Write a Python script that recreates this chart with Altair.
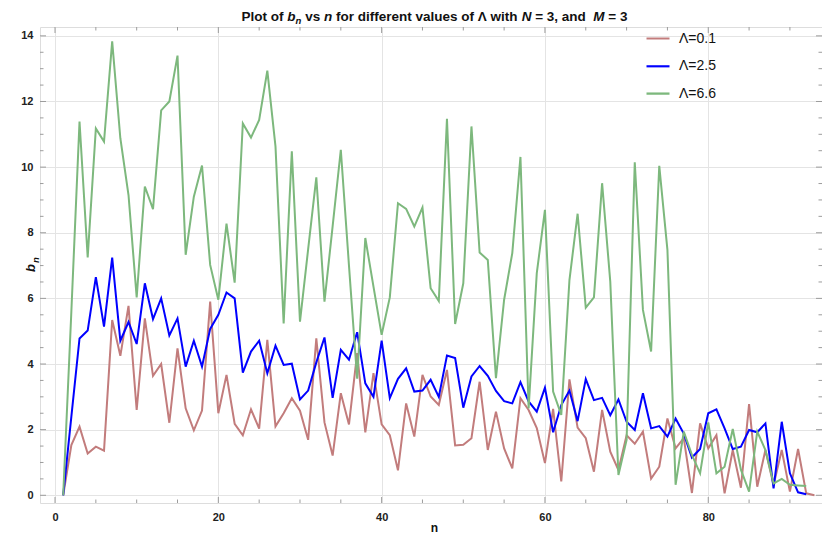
import altair as alt
import pandas as pd

# ---- data ----
red_vals = [0, 1.53, 2.09, 1.27, 1.48, 1.36, 5.34, 4.25, 5.77, 2.6,
            5.39, 3.64, 4.0, 2.21, 4.48, 2.65, 1.98, 2.58, 5.9, 2.5,
            3.67, 2.18, 1.83, 2.62, 2.03, 4.74, 2.1, 2.5, 2.96, 2.58,
            1.69, 4.78, 2.22, 1.21, 3.11, 2.16, 4.33, 1.92, 3.72, 2.16,
            1.83, 0.76, 2.8, 1.79, 3.67, 3.01, 2.75, 3.82, 1.52, 1.54,
            1.74, 3.46, 1.38, 2.55, 1.43, 0.82, 2.96, 2.6, 2.05, 0.98,
            2.63, 0.42, 3.53, 2.06, 1.74, 0.72, 2.6, 1.33, 0.77, 1.83,
            1.57, 1.94, 0.51, 0.87, 2.34, 1.43, 1.74, 0.07, 2.19, 1.43,
            1.83, 0.06, 1.38, 0.23, 2.78, 0.26, 1.38, 0.31, 1.38, 0.11,
            1.41, 0.06, 0.0]
blue_vals = [0, 2.4, 4.78, 5.02, 6.65, 5.14, 7.24, 4.71, 5.28, 4.61,
             6.46, 5.37, 6.0, 4.87, 5.39, 3.92, 4.71, 3.92, 5.07, 5.5,
             6.18, 6.0, 3.74, 4.38, 4.71, 3.72, 4.56, 3.97, 4.01, 2.92,
             3.19, 4.05, 4.81, 2.97, 4.43, 4.13, 4.97, 3.41, 3.0, 4.71,
             2.96, 3.55, 3.87, 3.16, 3.19, 3.52, 3.0, 4.26, 4.18, 2.67,
             3.62, 3.94, 3.64, 3.18, 2.87, 2.8, 3.45, 2.86, 2.55, 3.28,
             1.92, 2.75, 3.19, 2.26, 3.54, 2.9, 2.97, 2.44, 2.92, 2.24,
             1.99, 3.11, 2.04, 2.11, 1.79, 2.34, 1.88, 1.15, 1.41, 2.5,
             2.62, 2.04, 1.41, 1.48, 1.99, 1.92, 2.19, 0.21, 2.24, 0.67,
             0.09, 0.03]
green_vals = [0, 5.6, 11.39, 7.25, 11.18, 10.78, 13.83, 10.88, 9.15, 6.03,
              9.41, 8.72, 11.73, 12.0, 13.4, 7.33, 9.1, 10.05, 7.02, 5.96,
              8.28, 6.48, 11.33, 10.9, 11.44, 12.94, 10.63, 5.24, 10.48, 5.29,
              7.5, 9.69, 5.9, 8.2, 10.53, 7.0, 3.55, 7.84, 6.36, 4.89,
              6.03, 8.9, 8.73, 8.19, 8.77, 6.31, 5.92, 11.47, 5.22, 6.46,
              11.24, 7.4, 7.17, 3.57, 5.96, 7.38, 10.31, 2.65, 6.77, 8.7,
              3.16, 2.45, 6.56, 8.58, 5.72, 6.03, 9.51, 6.51, 0.62, 1.69,
              10.15, 5.65, 4.38, 10.04, 7.48, 0.32, 1.94, 1.23, 0.67, 2.22,
              0.67, 0.87, 2.02, 0.78, 0.11, 1.94, 1.38, 0.36, 0.5, 0.32,
              0.3, 0.28]
series_names = ["Λ=0.1", "Λ=2.5", "Λ=6.6"]
series_colors = ["#C27C7C", "#0000FF", "#7DB87D"]

x_major = [0, 20, 40, 60, 80]
x_minor = [5, 10, 15, 25, 30, 35, 45, 50, 55, 65, 70, 75, 85, 90]
y_major = [0, 2, 4, 6, 8, 10, 12, 14]
y_minor = [v / 2 for v in range(1, 28) if v % 4 != 0]

rows = []
for name, vals in zip(series_names, [red_vals, blue_vals, green_vals]):
    for i, v in enumerate(vals):
        rows.append({"n": i + 1, "b": v, "series": name})
df = pd.DataFrame(rows)

W, H = 782, 476
XDOM = [-1.84, 93.93]
YDOM = [-0.235, 14.27]
FRAME = "#9c9c9c"
FONT = "Liberation Sans, Arial, Helvetica, sans-serif"

xs = alt.Scale(domain=XDOM, nice=False, zero=False)
ys = alt.Scale(domain=YDOM, nice=False, zero=False)

lines = alt.Chart(df).mark_line(strokeWidth=2, clip=True).encode(
    x=alt.X("n:Q", scale=xs,
            axis=alt.Axis(values=x_major, grid=True, gridColor="#e4e4e4", ticks=False,
                          domain=False, labelFont=FONT, labelFontWeight="bold",
                          labelFontSize=11, labelColor="#222", labelPadding=8,
                          title=None)),
    y=alt.Y("b:Q", scale=ys,
            axis=alt.Axis(values=y_major, grid=True, gridColor="#e4e4e4", ticks=False,
                          domain=False, labelFont=FONT, labelFontWeight="bold",
                          labelFontSize=11, labelColor="#222", labelPadding=7,
                          title=None)),
    color=alt.Color("series:N",
                    scale=alt.Scale(domain=series_names, range=series_colors),
                    legend=alt.Legend(title=None, orient="none", legendX=605, legendY=-1,
                                      symbolType="stroke", symbolSize=529,
                                      symbolStrokeWidth=2.5, labelFontSize=14,
                                      labelFont=FONT,
                                      labelColor="#111", labelOffset=8, rowPadding=7.3,
                                      padding=0)),
    strokeWidth=alt.StrokeWidth("series:N",
                                scale=alt.Scale(domain=series_names, range=[2, 2.3, 2]),
                                legend=None),
    order=alt.Order("n:Q"),
)

xt_major = pd.DataFrame({"v": x_major})
xt_minor = pd.DataFrame({"v": x_minor})
yt_major = pd.DataFrame({"v": y_major})
yt_minor = pd.DataFrame({"v": y_minor})


def xticks(d, L):
    bottom = alt.Chart(d).mark_rule(color=FRAME, strokeWidth=1).encode(
        x=alt.X("v:Q", scale=xs), y=alt.value(H), y2=alt.value(H - L))
    top = alt.Chart(d).mark_rule(color=FRAME, strokeWidth=1).encode(
        x=alt.X("v:Q", scale=xs), y=alt.value(0), y2=alt.value(L))
    return [bottom, top]


def yticks(d, L):
    left = alt.Chart(d).mark_rule(color=FRAME, strokeWidth=1).encode(
        y=alt.Y("v:Q", scale=ys), x=alt.value(0), x2=alt.value(L))
    right = alt.Chart(d).mark_rule(color=FRAME, strokeWidth=1).encode(
        y=alt.Y("v:Q", scale=ys), x=alt.value(W), x2=alt.value(W - L))
    return [left, right]


ticks = xticks(xt_major, 6) + xticks(xt_minor, 3.5) + yticks(yt_major, 6) + yticks(yt_minor, 3.5)

# Arial-bold advance widths (per 1000 em) for laying out the mixed-style title
CW = {" ": 278, "P": 667, "l": 278, "o": 611, "t": 333, "f": 333, "b": 611, "n": 611,
      "v": 556, "s": 556, "d": 611, "i": 278, "e": 556, "r": 389, "a": 556, "u": 611,
      "w": 778, "h": 611, "Λ": 700, "N": 722, "M": 833, "=": 584, "3": 556, ",": 278}

TS = 13.5
SUB = 9.5
title_parts = [
    ("Plot of ", "normal", TS, 0),
    ("b", "italic", TS, 0),
    ("n", "italic", SUB, 3),
    (" vs ", "normal", TS, 0),
    ("n", "italic", TS, 0),
    (" for different values of Λ with ", "normal", TS, 0),
    ("N", "italic", TS, 0),
    (" = 3,  and ", "normal", TS, 0),
    ("M", "italic", TS, 0),
    (" = 3", "normal", TS, 0),
]
widths = [sum(CW.get(c, 556) for c in t) * fs / 1000 for t, _, fs, _ in title_parts]
total = sum(widths)
cx = 394.5
xpos = cx - total / 2
texts = []
for (txt, style, fs, dy), w in zip(title_parts, widths):
    texts.append(alt.Chart(pd.DataFrame({"t": [txt.strip()]})).mark_text(
        align="left", baseline="alphabetic", font=FONT, fontWeight="bold",
        fontStyle=style, fontSize=fs, color="#111", dy=dy).encode(
        text="t:N",
        x=alt.value(xpos + (CW[" "] * fs / 1000 if txt.startswith(" ") else 0)),
        y=alt.value(-6.5)))
    xpos += w

# y axis title b_n (rotated)
texts.append(alt.Chart(pd.DataFrame({"t": ["b"]})).mark_text(
    align="center", baseline="alphabetic", font=FONT, fontWeight="bold",
    fontStyle="italic", fontSize=13, color="#111", angle=270).encode(
    text="t:N", x=alt.value(-5), y=alt.value(241)))
texts.append(alt.Chart(pd.DataFrame({"t": ["n"]})).mark_text(
    align="center", baseline="alphabetic", font=FONT, fontWeight="bold",
    fontStyle="italic", fontSize=9.5, color="#111", angle=270).encode(
    text="t:N", x=alt.value(-1), y=alt.value(233)))
# x axis title
texts.append(alt.Chart(pd.DataFrame({"t": ["n"]})).mark_text(
    align="center", baseline="alphabetic", font=FONT, fontWeight="bold",
    fontSize=12, color="#111").encode(
    text="t:N", x=alt.value(394.5), y=alt.value(H + 29)))

chart = alt.layer(lines, *ticks, *texts).properties(
    width=W, height=H,
    padding={"left": 32, "top": 19, "right": 0, "bottom": 34},
    autosize=alt.AutoSizeParams(type="none"),
).configure_view(stroke=FRAME, strokeWidth=1.2).configure(background="white")

chart.save("out.html", embed_options={"renderer": "svg", "actions": False})
